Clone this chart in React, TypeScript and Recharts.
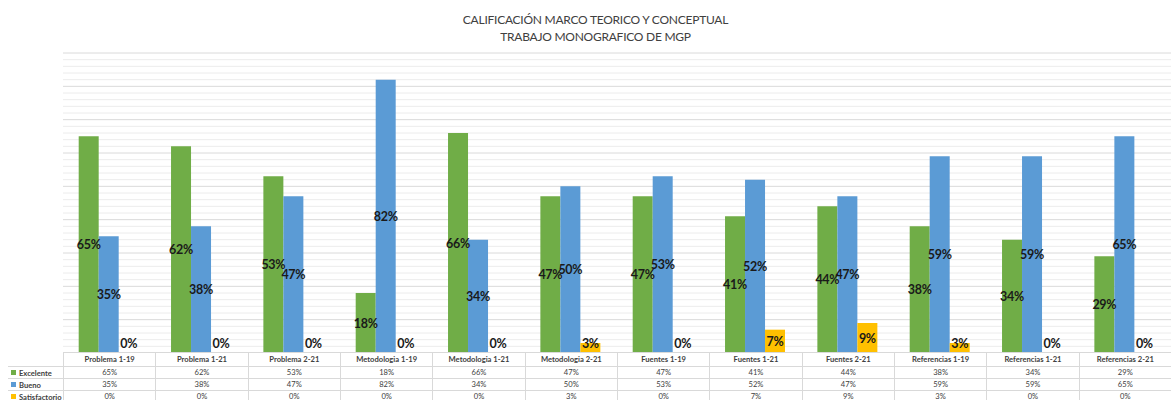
import React from 'react';
import { BarChart, Bar, XAxis, YAxis, ReferenceLine, LabelList, Rectangle } from 'recharts';

const categories = [
  'Problema 1-19', 'Problema 1-21', 'Problema 2-21', 'Metodologia 1-19',
  'Metodologia 1-21', 'Metodologia 2-21', 'Fuentes 1-19', 'Fuentes 1-21',
  'Fuentes 2-21', 'Referencias 1-19', 'Referencias 1-21', 'Referencias 2-21',
];
const excelente = [65, 62, 53, 18, 66, 47, 47, 41, 44, 38, 34, 29];
const bueno = [35, 38, 47, 82, 34, 50, 53, 52, 47, 59, 59, 65];
const satisfactorio = [0, 0, 0, 0, 0, 3, 0, 7, 9, 3, 0, 0];

const minorTicks = [2, 4, 6, 8, 12, 14, 16, 18, 22, 24, 26, 28, 32, 34, 36, 38, 42, 44, 46, 48, 52, 54, 56, 58, 62, 64, 66, 68, 72, 74, 76, 78, 82, 84, 86, 88];
const majorTicks = [10, 20, 30, 40, 50, 60, 70, 80, 90];
const Y_MAX = 90;

const GREEN = '#70AD47';
const BLUE = '#5B9BD5';
const YELLOW = '#FFC000';
const FONT = 'Lato, "Open Sans", sans-serif';

const series = [
  { key: 'excelente', name: 'Excelente', color: GREEN, values: excelente },
  { key: 'bueno', name: 'Bueno', color: BLUE, values: bueno },
  { key: 'satisfactorio', name: 'Satisfactorio', color: YELLOW, values: satisfactorio },
];

const data = categories.map((name, i) => ({
  name,
  excelente: excelente[i],
  bueno: bueno[i],
  satisfactorio: satisfactorio[i],
}));

const W = 1171;
const LEFT = 63;
const TOP = 53;
const CHART_H = 353;
const colW = (W - LEFT) / categories.length;
const border = '1px solid #d9d9d9';
const margin = { top: TOP, left: LEFT, right: 0, bottom: 0 };

// zero-value bars get a 1px min size so their labels still show; the shape hides them
const BarShape = (props: any) => {
  if (!props.value) return null;
  return <Rectangle {...props} />;
};

const CenterLabel = (props: any) => {
  const { x, y, width, height, value } = props;
  const bottom = y + height;
  const cy = Math.min(y + height / 2, bottom - 10);
  return (
    <text
      x={x + width / 2}
      y={cy}
      textAnchor="middle"
      dominantBaseline="central"
      fontFamily={FONT}
      fontWeight={700}
      fontSize={12.5}
      letterSpacing={-0.3}
      fill="#1a1a1a"
    >
      {value}%
    </text>
  );
};

const App: React.FC = () => {
  return (
    <div style={{ position: 'absolute', left: 0, top: 0, width: W, height: 400, background: '#fff', overflow: 'hidden', fontFamily: FONT }}>
      <div style={{ position: 'absolute', top: 11, left: 0, width: W + 20, textAlign: 'center', fontSize: 12, letterSpacing: -0.25, color: '#404040', lineHeight: '17px' }}>
        <div>CALIFICACIÓN MARCO TEORICO Y CONCEPTUAL</div>
        <div>TRABAJO MONOGRAFICO DE MGP</div>
      </div>
      {/* gridlines chart, sits behind the bars (invisible bar keeps the axes alive) */}
      <div style={{ position: 'absolute', left: 0, top: 0 }}>
        <BarChart width={W} height={CHART_H} data={data} margin={margin}>
          <XAxis dataKey="name" hide />
          <YAxis domain={[0, Y_MAX]} hide />
          <Bar dataKey="excelente" fill="transparent" isAnimationActive={false} />
          {minorTicks.map((t) => (
            <ReferenceLine key={`mi${t}`} y={t} stroke="#ececec" />
          ))}
          {majorTicks.map((t) => (
            <ReferenceLine key={`ma${t}`} y={t} stroke="#dadada" />
          ))}
        </BarChart>
      </div>
      <div style={{ position: 'absolute', left: 0, top: 0 }}>
        <BarChart width={W} height={CHART_H} data={data} margin={margin} barCategoryGap="17%" barGap={0}>
          <XAxis dataKey="name" hide />
          <YAxis domain={[0, Y_MAX]} hide />
          {series.map((s) => (
            <Bar key={s.key} dataKey={s.key} fill={s.color} isAnimationActive={false} minPointSize={1} shape={BarShape}>
              <LabelList dataKey={s.key} content={CenterLabel} />
            </Bar>
          ))}
        </BarChart>
      </div>
      {/* data table */}
      <div style={{ position: 'absolute', left: 0, top: 352, width: W, fontSize: 7.6, color: '#404040' }}>
        <div style={{ display: 'flex', height: 14 }}>
          <div style={{ width: LEFT }} />
          {categories.map((c) => (
            <div key={c} style={{ width: colW, borderLeft: border, borderTop: border, boxSizing: 'border-box', textAlign: 'center', lineHeight: '13px', fontWeight: 700 }}>
              {c}
            </div>
          ))}
        </div>
        {series.map((s) => (
          <div key={s.key} style={{ display: 'flex', height: 12 }}>
            <div style={{ width: LEFT - 8, marginLeft: 8, borderTop: border, boxSizing: 'border-box', display: 'flex', alignItems: 'center', fontWeight: 700, whiteSpace: 'nowrap' }}>
              <span style={{ display: 'inline-block', width: 5, height: 5, background: s.color, marginLeft: 3, marginRight: 3 }} />
              {s.name}
            </div>
            {s.values.map((v, i) => (
              <div key={i} style={{ width: colW, borderLeft: border, borderTop: border, boxSizing: 'border-box', textAlign: 'center', lineHeight: '11px' }}>
                {v}%
              </div>
            ))}
          </div>
        ))}
      </div>
    </div>
  );
};

export default App;
